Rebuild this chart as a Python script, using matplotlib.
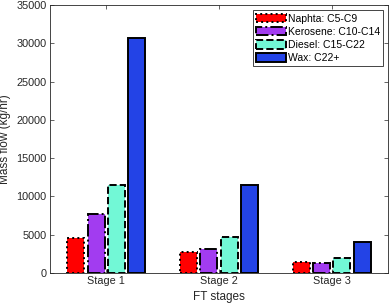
import numpy as np
import matplotlib
matplotlib.use('Agg')
import matplotlib.pyplot as plt

plt.rcParams['font.family'] = ['Liberation Sans', 'DejaVu Sans']

stages = ['Stage 1', 'Stage 2', 'Stage 3']
labels = ['Naphta: C5-C9', 'Kerosene: C10-C14', 'Diesel: C15-C22', 'Wax: C22+']
naphta = [4550, 2800, 1400]
kerosene = [7700, 3180, 1350]
diesel = [11500, 4680, 1950]
wax = [30700, 11500, 4100]

series = [naphta, kerosene, diesel, wax]
colors = ['#ff0000', '#a23cf0', '#72f8d6', '#2343e6']
styles = [':', '-.', '--', '-']

fig = plt.figure(figsize=(3.9, 3.07), dpi=100)
ax = fig.add_axes([0.128, 0.111, 0.867, 0.872])

x = np.arange(1, 4)
offsets = [-0.27, -0.09, 0.09, 0.27]
for vals, c, ls, lab, off in zip(series, colors, styles, labels, offsets):
    ax.bar(x + off, vals, width=0.15, color=c, edgecolor='black',
           linestyle=ls, linewidth=1.4, label=lab)

ax.set_xlim(0.5, 3.5)
ax.set_ylim(0, 35000)
ax.set_xticks(x)
ax.set_xticklabels(stages)
ax.set_yticks(np.arange(0, 35001, 5000))
ax.tick_params(direction='in', top=True, right=True, labelsize=7.8, length=3,
               width=0.5, colors='#262626', pad=2.5)
for s in ax.spines.values():
    s.set_linewidth(0.6)
    s.set_color('#262626')
ax.set_xlabel('FT stages', fontsize=8.5, color='#262626', labelpad=3)
ax.set_ylabel('Mass flow (kg/hr)', fontsize=8.5, color='#262626', labelpad=4)

leg = ax.legend(loc='upper right', fontsize=7.5, fancybox=False, framealpha=1,
                edgecolor='#262626', borderpad=0.3, labelspacing=0.3,
                handlelength=2.8, handleheight=0.9, handletextpad=0.2,
                borderaxespad=0.5)
leg.get_frame().set_linewidth(0.6)

fig.savefig('out.png', dpi=100)
